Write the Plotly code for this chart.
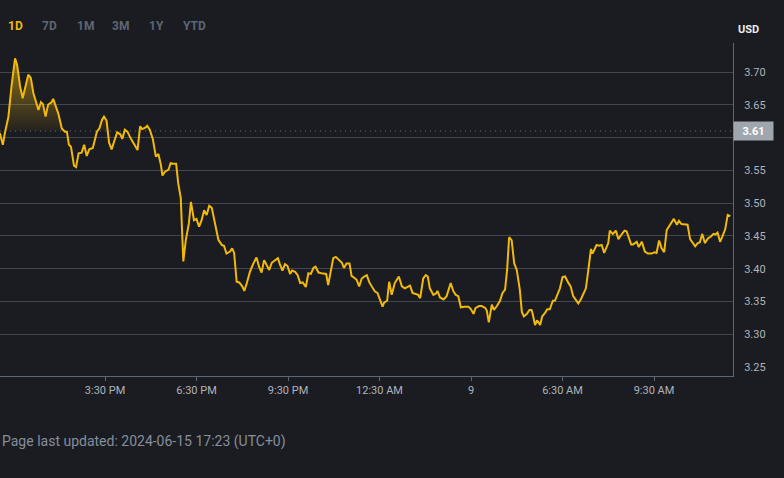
import plotly.graph_objects as go

# ---- data (minutes after 12:00, price in USD) ----
minutes = [3, 9, 13, 20, 26, 33, 37, 43, 48, 55, 59, 64, 69, 79, 84, 88, 93, 98, 105, 108,
           114, 118, 125, 131, 135, 139, 143, 149, 153, 158, 164, 169, 174, 179, 186, 194, 199, 204, 208, 213,
           218, 223, 230, 234, 240, 244, 249, 254, 261, 266, 274, 279, 283, 289, 293, 298, 304, 310, 315, 320,
           323, 328, 335, 339, 344, 350, 354, 359, 364, 369, 375, 379, 385, 390, 395, 400, 405, 410, 415, 420,
           426, 433, 440, 444, 449, 456, 460, 464, 469, 474, 480, 484, 489, 495, 502, 508, 513, 518, 523, 528,
           533, 538, 544, 550, 554, 559, 564, 569, 574, 578, 584, 589, 594, 599, 605, 610, 615, 620, 624, 630,
           636, 645, 649, 654, 659, 664, 671, 676, 680, 685, 691, 695, 702, 705, 710, 715, 720, 725, 730, 737,
           741, 746, 751, 756, 759, 765, 769, 774, 780, 788, 794, 800, 807, 810, 815, 822, 826, 830, 836, 841,
           845, 849, 856, 861, 864, 869, 876, 882, 885, 890, 895, 900, 905, 910, 917, 925, 930, 935, 939, 946,
           951, 958, 961, 965, 971, 975, 981, 987, 992, 997, 1001, 1005, 1010, 1015, 1020, 1026, 1030, 1034, 1040, 1045,
           1049, 1051, 1056, 1060, 1066, 1070, 1076, 1080, 1085, 1091, 1095, 1100, 1105, 1110, 1115, 1121, 1126, 1131, 1137, 1141,
           1146, 1151, 1156, 1160, 1163, 1166, 1169, 1174, 1177, 1182, 1187, 1192, 1196, 1200, 1203, 1209, 1215, 1220, 1226, 1232,
           1236, 1241, 1245, 1249, 1256, 1260, 1266, 1272, 1278, 1285, 1291, 1295, 1300, 1305, 1310, 1315, 1320, 1325, 1329, 1335,
           1339, 1344, 1350, 1356, 1361, 1367, 1371, 1376, 1380, 1385, 1390, 1396, 1402, 1407, 1411, 1415, 1420, 1424, 1430, 1435,
           1440]
price = [3.607, 3.589, 3.607, 3.632, 3.678, 3.721, 3.711, 3.678, 3.660, 3.681, 3.696, 3.691, 3.668, 3.642, 3.654, 3.651, 3.632, 3.650, 3.654, 3.659,
         3.645, 3.637, 3.614, 3.609, 3.609, 3.589, 3.586, 3.557, 3.555, 3.576, 3.577, 3.589, 3.572, 3.582, 3.584, 3.609, 3.614, 3.627, 3.632, 3.626,
         3.592, 3.582, 3.599, 3.608, 3.605, 3.598, 3.612, 3.609, 3.598, 3.592, 3.581, 3.617, 3.613, 3.615, 3.618, 3.612, 3.598, 3.571, 3.575, 3.558,
         3.542, 3.548, 3.551, 3.561, 3.560, 3.560, 3.530, 3.508, 3.411, 3.444, 3.469, 3.502, 3.474, 3.476, 3.464, 3.474, 3.489, 3.482, 3.496, 3.493,
         3.471, 3.444, 3.436, 3.435, 3.423, 3.426, 3.431, 3.424, 3.380, 3.379, 3.373, 3.366, 3.378, 3.395, 3.408, 3.417, 3.403, 3.394, 3.413, 3.406,
         3.398, 3.409, 3.412, 3.416, 3.407, 3.397, 3.407, 3.404, 3.392, 3.397, 3.395, 3.390, 3.378, 3.379, 3.372, 3.393, 3.392, 3.401, 3.403, 3.394,
         3.393, 3.392, 3.375, 3.393, 3.416, 3.418, 3.413, 3.409, 3.401, 3.408, 3.408, 3.389, 3.385, 3.383, 3.373, 3.385, 3.388, 3.390, 3.379, 3.369,
         3.365, 3.363, 3.351, 3.342, 3.348, 3.351, 3.380, 3.360, 3.378, 3.388, 3.373, 3.370, 3.373, 3.374, 3.363, 3.361, 3.360, 3.355, 3.385, 3.390,
         3.388, 3.370, 3.360, 3.362, 3.366, 3.356, 3.353, 3.358, 3.365, 3.378, 3.366, 3.360, 3.358, 3.341, 3.342, 3.342, 3.338, 3.331, 3.340, 3.343,
         3.343, 3.340, 3.336, 3.318, 3.345, 3.337, 3.343, 3.351, 3.363, 3.368, 3.398, 3.448, 3.443, 3.408, 3.398, 3.368, 3.334, 3.327, 3.331, 3.337,
         3.337, 3.332, 3.314, 3.321, 3.314, 3.327, 3.333, 3.338, 3.338, 3.351, 3.351, 3.360, 3.370, 3.387, 3.388, 3.379, 3.373, 3.358, 3.352, 3.347,
         3.353, 3.363, 3.370, 3.393, 3.414, 3.430, 3.423, 3.431, 3.436, 3.435, 3.436, 3.424, 3.431, 3.439, 3.458, 3.453, 3.458, 3.445, 3.452, 3.458,
         3.457, 3.444, 3.437, 3.437, 3.441, 3.433, 3.441, 3.426, 3.423, 3.423, 3.425, 3.424, 3.443, 3.431, 3.425, 3.459, 3.465, 3.472, 3.476, 3.467,
         3.473, 3.468, 3.467, 3.467, 3.445, 3.438, 3.434, 3.439, 3.440, 3.453, 3.439, 3.446, 3.449, 3.453, 3.452, 3.455, 3.441, 3.448, 3.460, 3.482,
         3.480]

open_price = 3.61
tick_minutes = [210, 390, 570, 750, 930, 1110, 1290]
tick_labels = ["3:30 PM", "6:30 PM", "9:30 PM", "12:30 AM", "9", "6:30 AM", "9:30 AM"]
grid_values = [3.30, 3.35, 3.40, 3.45, 3.50, 3.55, 3.60, 3.65, 3.70]
label_values = [3.25, 3.30, 3.35, 3.40, 3.45, 3.50, 3.55, 3.65, 3.70]
range_buttons = ["1D", "7D", "1M", "3M", "1Y", "YTD"]
button_pos = [0.021, 0.068, 0.116, 0.165, 0.213, 0.266]
x_range = [3.4, 1445.4]
y_range = [3.2362, 3.7443]

BG = "#1b1c21"
YELLOW = "#F0B90B"
GRID = "#41464f"
TXT = "#aeb4bc"

# area above the reference price: clip the series at open_price, inserting crossings
fx, fy = [], []
for i in range(len(minutes)):
    if i > 0:
        a, b = price[i - 1], price[i]
        if (a - open_price) * (b - open_price) < 0:
            t = (open_price - a) / (b - a)
            fx.append(minutes[i - 1] + t * (minutes[i] - minutes[i - 1]))
            fy.append(open_price)
    fx.append(minutes[i])
    fy.append(max(price[i], open_price))
last = max(i for i, v in enumerate(fy) if v > open_price) + 1
fx, fy = fx[: last + 1], fy[: last + 1]
fx = fx + [fx[-1], fx[0]]
fy = fy + [open_price, open_price]

fig = go.Figure()
fig.add_trace(go.Scatter(
    x=fx, y=fy, mode="lines", fill="toself", line=dict(width=0),
    fillgradient=dict(type="vertical", start=open_price, stop=max(price),
                      colorscale=[[0, "rgba(240,185,11,0.04)"], [0.5, "rgba(240,185,11,0.3)"],
                                  [1, "rgba(240,185,11,0.55)"]]),
    hoverinfo="skip", showlegend=False))
fig.add_trace(go.Scatter(
    x=x_range, y=[open_price, open_price], mode="lines",
    line=dict(color="rgba(160,166,176,0.55)", width=1, dash="1px,4px"),
    hoverinfo="skip", showlegend=False))
fig.add_trace(go.Scatter(
    x=minutes, y=price, mode="lines", line=dict(color=YELLOW, width=2),
    showlegend=False))
# invisible trace carrying the label axis
fig.add_trace(go.Scatter(x=[minutes[0]], y=[price[0]], yaxis="y2", mode="markers",
                         marker=dict(opacity=0), hoverinfo="skip", showlegend=False))

fig.update_layout(
    width=784, height=478,
    paper_bgcolor=BG, plot_bgcolor=BG,
    margin=dict(l=0, r=51, t=43, b=102, autoexpand=False),
    font=dict(family="Roboto", color=TXT, size=11),
    xaxis=dict(range=x_range, tickvals=tick_minutes, ticktext=tick_labels,
               showgrid=False, zeroline=False, showline=True, linecolor="#5e6673", linewidth=1,
               ticks="outside", ticklen=4, tickcolor="#5e6673", tickfont=dict(size=11, color=TXT)),
    yaxis=dict(range=y_range, side="right", tickvals=grid_values, showticklabels=False,
               showgrid=True, gridcolor=GRID, gridwidth=1, zeroline=False,
               showline=True, linecolor="#5e6673", linewidth=1, ticks=""),
    yaxis2=dict(range=y_range, overlaying="y", side="right", tickvals=label_values,
                ticktext=[f"{v:.2f}" for v in label_values], showgrid=False, zeroline=False,
                showline=False, ticks="outside", ticklen=8, tickcolor="rgba(0,0,0,0)",
                tickfont=dict(size=11, color=TXT)),
)

fig.add_annotation(xref="paper", yref="y", x=1, y=open_price, xanchor="left", yanchor="middle",
                   text=f"<b>{open_price:.2f}</b>", showarrow=False, bgcolor="#a0a6ae",
                   font=dict(size=11, color="#ffffff"), width=35, height=14, borderpad=2)
fig.add_annotation(xref="paper", yref="paper", x=1, y=1, xanchor="left", yanchor="bottom",
                   xshift=3, yshift=5, text="<b>USD</b>", showarrow=False,
                   font=dict(size=11, color="#eaecef"))
for i, (lab, px) in enumerate(zip(range_buttons, button_pos)):
    fig.add_annotation(xref="paper", yref="paper", x=px, y=1, xanchor="center", yanchor="middle",
                       yshift=17, text=f"<b>{lab}</b>", showarrow=False,
                       font=dict(size=12, color=YELLOW if i == 0 else "#5e6673"))
fig.add_annotation(xref="paper", yref="paper", x=0, y=0, xanchor="left", yanchor="middle",
                   yshift=-65, text="Page last updated: 2024-06-15 17:23 (UTC+0)", showarrow=False,
                   font=dict(size=14, color="#848e9c"))

fig.write_html("out.html", config={"displayModeBar": False},
               post_script="document.body.style.margin='0';document.body.style.background='#1b1c21';")
